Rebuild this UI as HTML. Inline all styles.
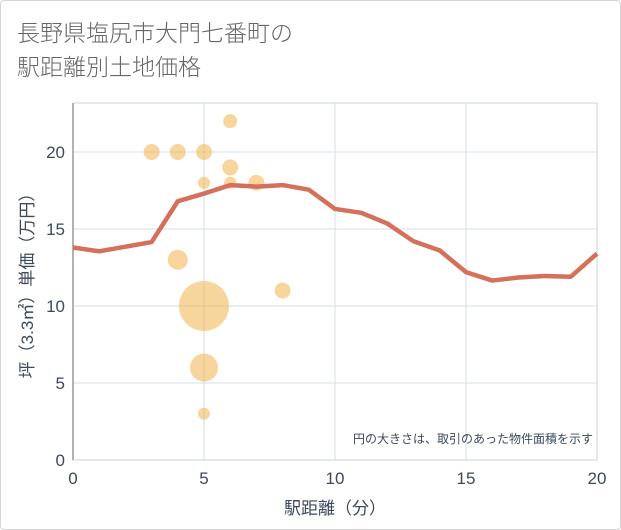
<!DOCTYPE html>
<html><head><meta charset="utf-8">
<style>
body{margin:0;background:#fff;font-family:"Liberation Sans","Noto Sans CJK JP",sans-serif;}
.card{position:absolute;left:0;top:0;width:619px;height:528px;border:1px solid #d6d6d6;border-radius:4px;background:#fff;}
.title{position:absolute;left:17px;top:16px;font-size:23px;line-height:34px;color:#666;font-family:"Liberation Sans","Noto Sans CJK JP",sans-serif;font-weight:300;}
</style></head><body>
<div class="card"></div>
<div class="title">長野県塩尻市大門七番町の<br>駅距離別土地価格</div>
<svg id="chart" width="621" height="530" style="position:absolute;left:0;top:0"></svg>
<script>
const xTicks=[0,5,10,15,20];
const yTicks=[0,5,10,15,20];
const lineX=[0,1,2,3,4,5,6,7,8,9,10,11,12,13,14,15,16,17,18,19,20];
const lineY=[13.8,13.55,13.85,14.15,16.8,17.3,17.85,17.75,17.85,17.55,16.3,16.05,15.35,14.2,13.6,12.2,11.65,11.85,11.95,11.9,13.4];
const bubX=[3,4,5,6,6,5,6,7,4,8,5,5,5];
const bubY=[20,20,20,22,19,18,18,18,13,11,10,6,3];
const bubR=[8,8,8,7,8,6,6,8,10,8,25,14,6];
const L=73,R=597,T=103,B=460;
const sx=v=>L+(v/20)*(R-L);
const sy=v=>B-(v/23.18)*(B-T);
const svg=document.getElementById('chart');
const NS='http://www.w3.org/2000/svg';
function mk(t,a){const e=document.createElementNS(NS,t);for(const k in a)e.setAttribute(k,a[k]);svg.appendChild(e);return e;}
xTicks.forEach(v=>{
 const g=mk('line',{x1:sx(v),x2:sx(v),y1:T,y2:B,stroke:'#d5dfe9','stroke-width':1});
 
 
 const t=mk('text',{x:sx(v),y:B+24,'text-anchor':'middle','font-size':17,fill:'#3d4a5a'});t.textContent=v;
 
 
});
yTicks.forEach(v=>{
 const g=mk('line',{x1:L,x2:R,y1:sy(v),y2:sy(v),stroke:'#d5dfe9','stroke-width':1});
 
 
 const t=mk('text',{x:L-8,y:sy(v)+6,'text-anchor':'end','font-size':17,fill:'#3d4a5a'});t.textContent=v;
 
 
});
const ax=mk('path',{d:`M${L},${T}V${B}H${R}V${T}H${L}`,fill:'none',stroke:'#c9d3de','stroke-width':1});


const al=mk('line',{x1:L,x2:L,y1:T,y2:B,stroke:'#999','stroke-width':1.5});


bubX.forEach((x,i)=>{
 const c=mk('circle',{cx:sx(x),cy:sy(bubY[i]),r:bubR[i],fill:'rgba(242,185,90,0.6)'});
 
 
});
const p=mk('polyline',{points:lineX.map((x,i)=>sx(x)+','+sy(lineY[i])).join(' '),fill:'none',stroke:'#d5705a','stroke-width':4.5,'stroke-linejoin':'round'});


const xt=mk('text',{x:(L+R)/2,y:514,'text-anchor':'middle','font-size':17,fill:'#3d4a5a'});xt.textContent='駅距離（分）';


const yt=mk('text',{x:0,y:0,'text-anchor':'middle','font-size':17,fill:'#3d4a5a',transform:`translate(33,${(T+B)/2}) rotate(-90)`});yt.textContent='坪（3.3㎡）単価（万円）';


const n=mk('text',{x:593,y:443,'text-anchor':'end','font-size':12,fill:'#3d4a5a'});n.textContent='円の大きさは、取引のあった物件面積を示す';


</script>
</body></html>
